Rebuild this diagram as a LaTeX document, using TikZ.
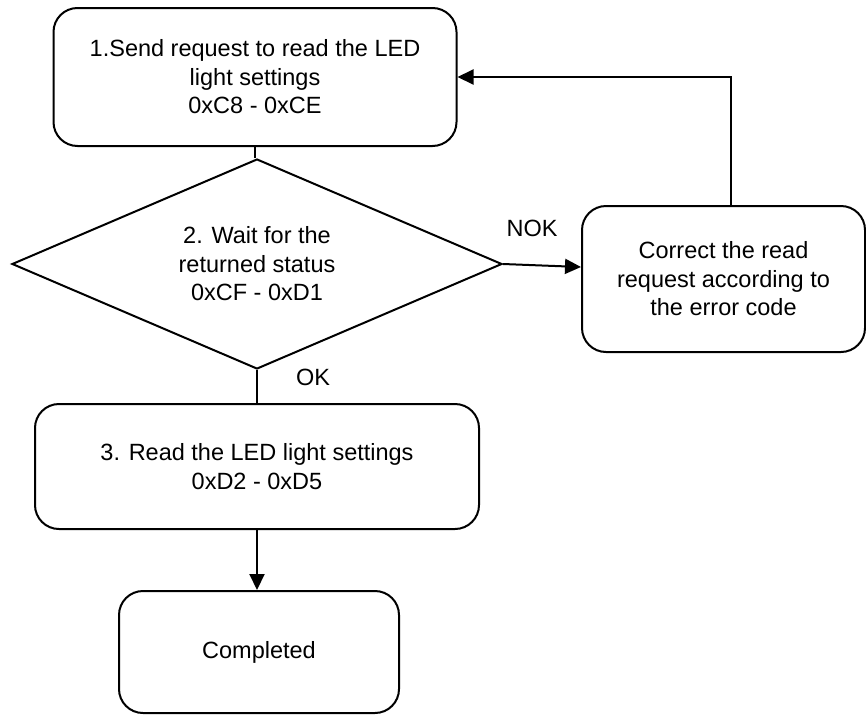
\documentclass[tikz,border=0pt]{standalone}
\usepackage{fontspec}
\setmainfont{Liberation Sans}
\usetikzlibrary{arrows.meta,positioning,shapes.geometric}
\definecolor{lineblack}{RGB}{0,0,0}
\newcommand{\flowfont}{\fontsize{23.5}{28.5}\selectfont}
\tikzset{
  stepbox/.style={draw=lineblack, line width=2pt, rounded corners=24pt,
    align=center, font=\flowfont, inner sep=0pt},
  decision/.style={draw=lineblack, line width=2pt, diamond, aspect=2.33,
    align=center, font=\flowfont, inner sep=0pt},
  flowline/.style={lineblack, line width=2pt},
  flowarrow/.style={flowline, -{Triangle[length=16pt,width=15pt]}},
  flowlabel/.style={font=\flowfont, inner sep=0pt}
}

\begin{document}
\begin{tikzpicture}[x=1pt,y=-1pt]
        \useasboundingbox (0,0) rectangle (866,715);
        \node[stepbox, minimum width=403pt, minimum height=138pt] (send) at (255,77)
          {1.Send request to read the LED\\light settings\\0xC8 - 0xCE};
        \node[decision, minimum width=490pt, minimum height=210pt] (wait) at (257,264)
          {2. Wait for the\\returned status\\0xCF - 0xD1};
        \node[stepbox, minimum width=283pt, minimum height=146pt] (fix) at (723.5,279)
          {Correct the read\\request according to\\the error code};
        \node[stepbox, minimum width=444pt, minimum height=125pt] (read) at (257,466.5)
          {3. Read the LED light settings\\0xD2 - 0xD5};
        \node[stepbox, minimum width=280pt, minimum height=122pt] (done) at (259,652)
          {Completed};
        \node[flowlabel] (nok) at (532,228) {NOK};
        \node[flowlabel] (ok) at (313,377) {OK};
        \draw[flowline] (send.south) -- (send.south |- wait.north);
        \draw[flowarrow] (wait.east) -- ([yshift=12pt]fix.west);
        \draw[flowarrow] ([xshift=7.5pt]fix.north) |- (send.east);
        \draw[flowline] (wait.south) -- (wait.south |- read.north);
        \draw[flowarrow] (read.south) -- (read.south |- done.north);
      \end{tikzpicture}
\end{document}
